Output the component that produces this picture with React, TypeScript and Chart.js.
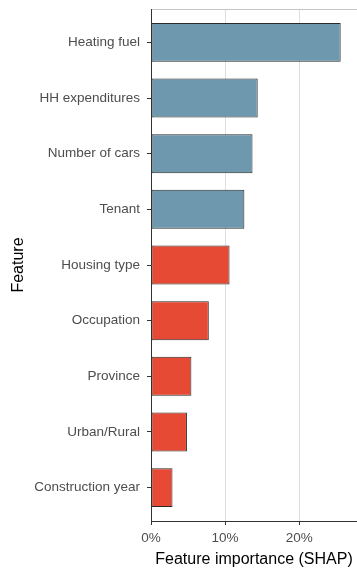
import React, { useEffect, useRef } from "react";
import { Chart, registerables } from "chart.js";

const features = [
  "Heating fuel",
  "HH expenditures",
  "Number of cars",
  "Tenant",
  "Housing type",
  "Occupation",
  "Province",
  "Urban/Rural",
  "Construction year",
];
const importance = [25.6, 14.4, 13.7, 12.6, 10.6, 7.8, 5.45, 4.85, 2.9];
const groups = ["A", "A", "A", "A", "B", "B", "B", "B", "B"];
const xTicks = [0, 10, 20];

const groupColors: Record<string, string> = { A: "#6e98ad", B: "#e64a35" };
const FONT = "'Liberation Sans', Arial, sans-serif";

Chart.register(...registerables);

export default function App() {
  const ref = useRef<HTMLCanvasElement>(null);
  useEffect(() => {
    document.body.style.margin = "0";
    const chart = new Chart(ref.current!, {
      type: "bar",
      data: {
        datasets: [
          {
            data: importance.map((v, i) => ({ x: v, y: i })) as any,
            backgroundColor: groups.map((g) => groupColors[g]),
            borderColor: "#2a2a2a",
            borderWidth: 1,
            borderSkipped: false,
            barPercentage: 0.7,
            categoryPercentage: 1,
          },
        ],
      },
      options: {
        indexAxis: "y",
        responsive: false,
        animation: false,
        layout: { padding: { top: 9, left: 0, right: 0, bottom: 0 } },
        plugins: { legend: { display: false }, tooltip: { enabled: false } },
        scales: {
          x: {
            type: "linear",
            position: "bottom",
            min: 0,
            max: 27.8,
            offset: false,
            afterBuildTicks: (s: any) => {
              s.ticks = xTicks.map((v) => ({ value: v }));
            },
            afterFit: (s: any) => {
              s.height = 48;
            },
            grid: {
              offset: false,
              color: "#dedede",
              lineWidth: 1,
              drawTicks: true,
              tickLength: 4,
              tickColor: "#333333",
            },
            border: { display: true, color: "#333333", width: 1 },
            ticks: {
              color: "#4d4d4d",
              font: { family: FONT, size: 13.5 },
              padding: 5,
              callback: (v: any) => `${v}%`,
            },
            title: {
              display: true,
              text: "Feature importance (SHAP)",
              color: "#000000",
              font: { family: FONT, size: 16 },
              padding: { top: 0, bottom: 0 },
            },
          },
          xTop: {
            type: "linear",
            position: "top",
            axis: "x",
            min: 0,
            max: 27.8,
            afterFit: (s: any) => {
              s.height = 0;
            },
            grid: { display: false, drawTicks: false },
            ticks: { display: false },
            border: { display: true, color: "#c4c4c4", width: 1 },
          },
          y: {
            type: "linear",
            position: "left",
            reverse: true,
            min: -0.6,
            max: 8.6,
            offset: false,
            afterBuildTicks: (s: any) => {
              s.ticks = features.map((_, i) => ({ value: i }));
            },
            afterFit: (s: any) => {
              s.width = 151;
              s.paddingTop = 0;
              s.paddingBottom = 0;
            },
            grid: {
              offset: false,
              drawOnChartArea: false,
              drawTicks: true,
              tickLength: 4,
              tickColor: "#333333",
            },
            border: { display: true, color: "#333333", width: 1 },
            ticks: {
              color: "#4d4d4d",
              font: { family: FONT, size: 13.5 },
              padding: 7,
              autoSkip: false,
              callback: (v: any) => features[v as number] ?? "",
            },
            title: {
              display: true,
              text: "Feature",
              color: "#000000",
              font: { family: FONT, size: 16 },
              padding: { top: 9, bottom: 0 },
            },
          },
        },
      },
    });
    return () => chart.destroy();
  }, []);
  return (
    <div style={{ width: 357, height: 569 }}>
      <canvas ref={ref} width={357} height={569} />
    </div>
  );
}
